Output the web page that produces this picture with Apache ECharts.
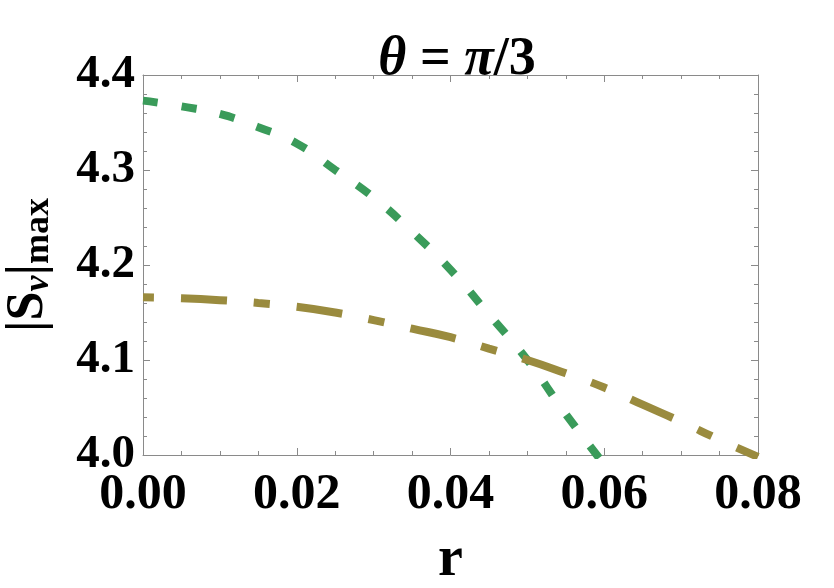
<!DOCTYPE html>
<html>
<head>
<meta charset="utf-8">
<script src="https://cdn.jsdelivr.net/npm/echarts@6/dist/echarts.min.js"></script>
<style>
    html, body { margin: 0; padding: 0; background: #fff; }
    #chart { width: 834px; height: 588px; }
</style>
</head>
<body>
<div id="chart"></div>
<script>
    // values
    var rGreen = [0, 0.005, 0.01, 0.015, 0.02, 0.025, 0.03, 0.035, 0.04, 0.045, 0.05, 0.055, 0.06];
    var sGreen = [4.373, 4.367, 4.359, 4.345, 4.328, 4.300, 4.271, 4.235, 4.195, 4.148, 4.100, 4.043, 3.990];
    var rOlive = [0, 0.005, 0.01, 0.015, 0.02, 0.025, 0.03, 0.035, 0.04, 0.045, 0.05, 0.055, 0.06, 0.065, 0.07, 0.075, 0.08];
    var sOlive = [4.166, 4.165, 4.163, 4.160, 4.156, 4.150, 4.142, 4.133, 4.124, 4.112, 4.100, 4.086, 4.071, 4.053, 4.035, 4.016, 3.998];
    var xTicks = ['0.00', '0.02', '0.04', '0.06', '0.08'];
    var yTicks = ['4.0', '4.1', '4.2', '4.3', '4.4'];

    function pairs(xs, ys) {
        return xs.map(function (x, i) { return [x, ys[i]]; });
    }

    var serif = 'Liberation Serif';
    var frame = '#8a8a8a';

    function mirrorAxis(pos, isX) {
        return {
            type: 'value',
            position: pos,
            min: isX ? 0 : 4.0,
            max: isX ? 0.08 : 4.4,
            interval: isX ? 0.02 : 0.1,
            axisLine: { show: true, onZero: false, lineStyle: { color: frame, width: 1 } },
            axisTick: { show: true, inside: true, length: 7, lineStyle: { color: frame } },
            minorTick: { show: true, splitNumber: isX ? 4 : 5, length: 4, lineStyle: { color: frame } },
            axisLabel: { show: false },
            splitLine: { show: false }
        };
    }

    var chart = echarts.init(document.getElementById('chart'));
    chart.setOption({
        animation: false,
        backgroundColor: '#fff',
        title: {
            text: '{i|θ} = {i|π}/3',
            left: 452,
            textAlign: 'center',
            top: 28,
            textStyle: {
                fontFamily: serif,
                fontWeight: 'bold',
                fontSize: 54,
                color: '#000',
                rich: {
                    i: { fontFamily: serif, fontStyle: 'italic', fontWeight: 'bold', fontSize: 54, color: '#000' }
                }
            }
        },
        grid: { left: 143, right: 76, top: 75, bottom: 133, containLabel: false, outerBoundsMode: 'none' },
        xAxis: [
            {
                type: 'value',
                position: 'bottom',
                min: 0,
                max: 0.08,
                interval: 0.02,
                name: 'r',
                nameLocation: 'middle',
                nameGap: 78,
                nameTextStyle: { fontFamily: serif, fontWeight: 'bold', fontSize: 56, color: '#000' },
                axisLine: { show: true, onZero: false, lineStyle: { color: frame, width: 1 } },
                axisTick: { show: true, inside: true, length: 7, lineStyle: { color: frame } },
                minorTick: { show: true, splitNumber: 4, length: 4, lineStyle: { color: frame } },
                axisLabel: {
                    margin: 15,
                    fontFamily: serif,
                    fontWeight: 'bold',
                    fontSize: 50,
                    color: '#000',
                    formatter: function (v) { return xTicks[Math.round(v / 0.02)]; }
                },
                splitLine: { show: false }
            },
            mirrorAxis('top', true)
        ],
        yAxis: [
            {
                type: 'value',
                position: 'left',
                min: 4.0,
                max: 4.4,
                interval: 0.1,
                name: '{a||S}{v|v}{a||}{m|max}',
                nameLocation: 'middle',
                nameGap: 86,
                nameRotate: 90,
                nameTextStyle: {
                    fontFamily: serif,
                    fontWeight: 'bold',
                    color: '#000',
                    rich: {
                        a: { fontFamily: serif, fontWeight: 'bold', fontSize: 52, color: '#000' },
                        v: { fontFamily: serif, fontStyle: 'italic', fontWeight: 'bold', fontSize: 36, color: '#000', verticalAlign: 'bottom', padding: [20, 0, 0, 0] },
                        m: { fontFamily: serif, fontWeight: 'bold', fontSize: 36, color: '#000', verticalAlign: 'bottom', padding: [20, 0, 0, 0] }
                    }
                },
                axisLine: { show: true, onZero: false, lineStyle: { color: frame, width: 1 } },
                axisTick: { show: true, inside: true, length: 7, lineStyle: { color: frame } },
                minorTick: { show: true, splitNumber: 5, length: 4, lineStyle: { color: frame } },
                axisLabel: {
                    margin: 8,
                    padding: [8, 0, 0, 0],
                    fontFamily: serif,
                    fontWeight: 'bold',
                    fontSize: 47,
                    color: '#000',
                    formatter: function (v) { return yTicks[Math.round((v - 4.0) / 0.1)]; }
                },
                splitLine: { show: false }
            },
            mirrorAxis('right', false)
        ],
        series: [
            {
                type: 'line',
                data: pairs(rGreen, sGreen),
                smooth: true,
                showSymbol: false,
                clip: true,
                lineStyle: { color: '#3a9b5a', width: 8, type: [15, 24], cap: 'butt' }
            },
            {
                type: 'line',
                data: pairs(rOlive, sOlive),
                smooth: true,
                showSymbol: false,
                clip: true,
                lineStyle: { color: '#9a8b3e', width: 8, type: [46, 27, 16, 27], dashOffset: 78, cap: 'butt' }
            }
        ]
    });
</script>
</body>
</html>
